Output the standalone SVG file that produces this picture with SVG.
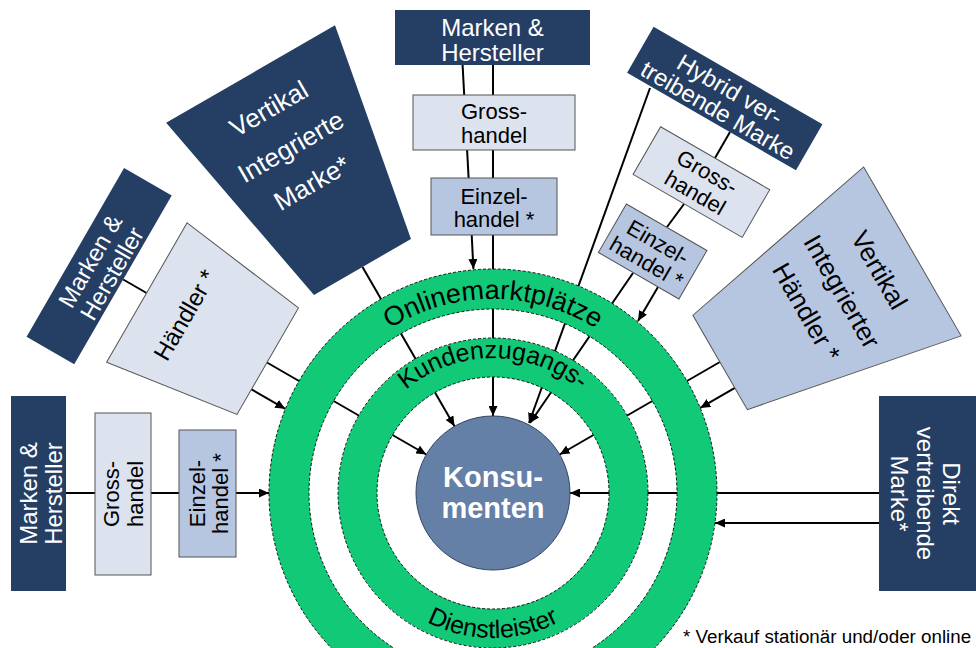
<svg xmlns="http://www.w3.org/2000/svg" width="976" height="648" viewBox="0 0 976 648">
<defs>
<marker id="ah" markerUnits="userSpaceOnUse" markerWidth="10" markerHeight="9" refX="10" refY="4.5" orient="auto"><path d="M0,0 L10,4.5 L0,9 z" fill="#000"/></marker>
<path id="pOnline" d="M299,493 A194,194 0 0 1 687,493"/>
<path id="pKunden" d="M358,493 A135,135 0 0 1 628,493"/>
<path id="pDienst" d="M348,493 A145,145 0 0 0 638,493"/>
</defs>
<style>
.navy{fill:#243E64}
.light{fill:#DCE3EE;stroke:#555;stroke-width:1}
.mid{fill:#B7C6E0;stroke:#555;stroke-width:1}
.wt{fill:#fff;font-family:"Liberation Sans",Arial,sans-serif;font-size:24px;text-anchor:middle}
.bt{fill:#000;font-family:"Liberation Sans",Arial,sans-serif;font-size:22px;text-anchor:middle}
.ln{stroke:#000;stroke-width:2;fill:none}
.ar{stroke:#000;stroke-width:2;fill:none;marker-end:url(#ah)}
.ring{fill:none;stroke:#12C978}
.dash{fill:none;stroke:#000;stroke-width:0.9;stroke-dasharray:3 2}
.rt{font-family:"Liberation Sans",Arial,sans-serif;fill:#000}
</style>
<rect x="0" y="0" width="976" height="648" fill="#fff"/>

<g id="connectors">
 <line class="ln" x1="66" y1="493" x2="95" y2="493"/>
 <line class="ln" x1="151" y1="493" x2="179" y2="493"/>
 <line class="ar" x1="236" y1="493" x2="269" y2="493"/>
 <g transform="rotate(30 493 493)">
  <line class="ln" x1="66" y1="493" x2="93" y2="493"/>
  <line class="ar" x1="232" y1="493" x2="416" y2="493"/>
  <line class="ar" x1="232" y1="524" x2="271" y2="524"/>
 </g>
 <g transform="rotate(60 493 493)">
  <line class="ar" x1="232" y1="493" x2="416" y2="493"/>
 </g>
 <line class="ln" x1="493" y1="65" x2="493" y2="95"/>
 <line class="ln" x1="493" y1="150" x2="493" y2="178"/>
 <line class="ar" x1="493" y1="235" x2="493" y2="416"/>
 <line class="ln" x1="462.6" y1="65" x2="464.2" y2="95"/>
 <line class="ln" x1="467.1" y1="150" x2="468.6" y2="178"/>
 <line class="ar" x1="471.7" y1="235" x2="473.4" y2="269"/>
 <line class="ar" x1="650" y1="88" x2="529" y2="423"/>
 <line class="ar" x1="633" y1="273" x2="530" y2="423"/>
 <line class="ln" x1="730" y1="132" x2="715" y2="158"/>
 <line class="ln" x1="684" y1="204" x2="667" y2="227"/>
 <line class="ar" x1="658" y1="287" x2="638" y2="321"/>
 <g transform="rotate(150 493 493)">
  <line class="ar" x1="231" y1="493" x2="416" y2="493"/>
  <line class="ar" x1="231" y1="463" x2="271" y2="463"/>
 </g>
 <line class="ar" x1="879" y1="493" x2="570" y2="493"/>
 <line class="ar" x1="879" y1="523" x2="715" y2="523"/>
</g>

<g id="ring-onlinemarktplaetze">
 <circle class="ring" cx="493" cy="493" r="204" stroke-width="40"/>
 <circle class="dash" cx="493" cy="493" r="224"/>
 <circle class="dash" cx="493" cy="493" r="184"/>
 <text class="rt" font-size="27"><textPath href="#pOnline" startOffset="50%" text-anchor="middle">Onlinemarktplätze</textPath></text>
</g>

<g id="ring-kundenzugang">
 <circle class="ring" cx="493" cy="493" r="135.5" stroke-width="39"/>
 <circle class="dash" cx="493" cy="493" r="155"/>
 <circle class="dash" cx="493" cy="493" r="116"/>
 <text class="rt" font-size="25"><textPath href="#pKunden" startOffset="50%" text-anchor="middle">Kundenzugangs-</textPath></text>
 <text class="rt" font-size="25"><textPath href="#pDienst" startOffset="50%" text-anchor="middle">Dienstleister</textPath></text>
</g>

<g id="konsumenten">
 <circle cx="493" cy="493" r="77" fill="#6580A6" stroke="#34455F" stroke-width="1"/>
 <text class="wt" font-weight="bold" style="font-size:29px"><tspan x="493" y="487">Konsu-</tspan><tspan x="493" y="518">menten</tspan></text>
</g>

<g id="left-marken">
 <rect class="navy" x="11" y="396" width="55" height="195"/>
 <text class="wt" transform="translate(38.5 493.5) rotate(-90)"><tspan x="0" y="-2">Marken &amp;</tspan><tspan x="0" y="23">Hersteller</tspan></text>
</g>
<g id="left-gross">
 <rect class="light" x="95" y="413" width="56" height="162"/>
 <text class="bt" transform="translate(123 494) rotate(-90)"><tspan x="0" y="-4">Gross-</tspan><tspan x="0" y="20">handel</tspan></text>
</g>
<g id="left-einzel">
 <rect class="mid" x="179" y="430" width="57" height="127"/>
 <text class="bt" transform="translate(207.5 493.5) rotate(-90)"><tspan x="0" y="-3">Einzel-</tspan><tspan x="0" y="20">handel *</tspan></text>
</g>

<g id="upper-left-marken" transform="rotate(30 493 493)">
 <rect class="navy" x="11" y="396" width="55" height="195"/>
 <text class="wt" transform="translate(38.5 493.5) rotate(-90)"><tspan x="0" y="-2">Marken &amp;</tspan><tspan x="0" y="23">Hersteller</tspan></text>
</g>
<g id="haendler" transform="rotate(30 493 493)">
 <polygon class="light" points="93,412 232,430 232,553 93,573"/>
 <text class="bt" style="font-size:24px" transform="translate(137 493) rotate(-90)" x="0" y="8.5">Händler *</text>
</g>

<g id="vertikal-integrierte-marke" transform="rotate(60 493 493)">
 <polygon class="navy" points="9,396 232,437 232,549 9,591"/>
 <text class="wt" style="font-size:26px" transform="translate(92 495) rotate(-90)"><tspan x="0" y="-35">Vertikal</tspan><tspan x="0" y="9">Integrierte</tspan><tspan x="0" y="51">Marke*</tspan></text>
</g>

<g id="top-marken">
 <rect class="navy" x="395" y="10" width="195" height="55"/>
 <text class="wt"><tspan x="492.5" y="36">Marken &amp;</tspan><tspan x="492.5" y="61">Hersteller</tspan></text>
</g>
<g id="top-gross">
 <rect class="light" x="413" y="95" width="162" height="55"/>
 <text class="bt"><tspan x="494" y="118.5">Gross-</tspan><tspan x="494" y="142.5">handel</tspan></text>
</g>
<g id="top-einzel">
 <rect class="mid" x="431" y="178" width="126" height="57"/>
 <text class="bt"><tspan x="494" y="203.5">Einzel-</tspan><tspan x="494" y="226.5">handel *</tspan></text>
</g>

<g id="hybrid-marke" transform="rotate(120 493 493)">
 <rect class="navy" x="9" y="392" width="53" height="195"/>
 <text class="wt" transform="translate(35.5 489.5) rotate(-90)"><tspan x="0" y="-2">Hybrid ver-</tspan><tspan x="0" y="22">treibende Marke</tspan></text>
</g>
<g id="hybrid-gross" transform="rotate(120 493 493)">
 <rect class="light" x="92" y="405" width="55" height="126"/>
 <text class="bt" transform="translate(119.5 468) rotate(-90)"><tspan x="0" y="-4">Gross-</tspan><tspan x="0" y="20">handel</tspan></text>
</g>
<g id="hybrid-einzel" transform="rotate(120 493 493)">
 <rect class="mid" x="176" y="429" width="56" height="93"/>
 <text class="bt" transform="translate(204 475.5) rotate(-90)"><tspan x="0" y="-3">Einzel-</tspan><tspan x="0" y="20">handel *</tspan></text>
</g>

<g id="vertikal-integrierter-haendler" transform="rotate(150 493 493)">
 <polygon class="mid" points="9,395 231,438 231,547 9,590"/>
 <text class="bt" style="font-size:26px" transform="translate(90 493) rotate(-90)"><tspan x="0" y="-34">Vertikal</tspan><tspan x="0" y="9">Integrierter</tspan><tspan x="0" y="50">Händler *</tspan></text>
</g>

<g id="direkt-marke">
 <rect class="navy" x="879" y="396" width="97" height="195"/>
 <text class="wt" transform="translate(927.5 493.5) rotate(90)"><tspan x="0" y="-15">Direkt</tspan><tspan x="0" y="11">vertreibende</tspan><tspan x="0" y="37">Marke*</tspan></text>
</g>

<text id="footnote" x="683" y="643" style="font-family:'Liberation Sans',Arial,sans-serif;font-size:18.8px;fill:#000">* Verkauf stationär und/oder online</text>
</svg>
